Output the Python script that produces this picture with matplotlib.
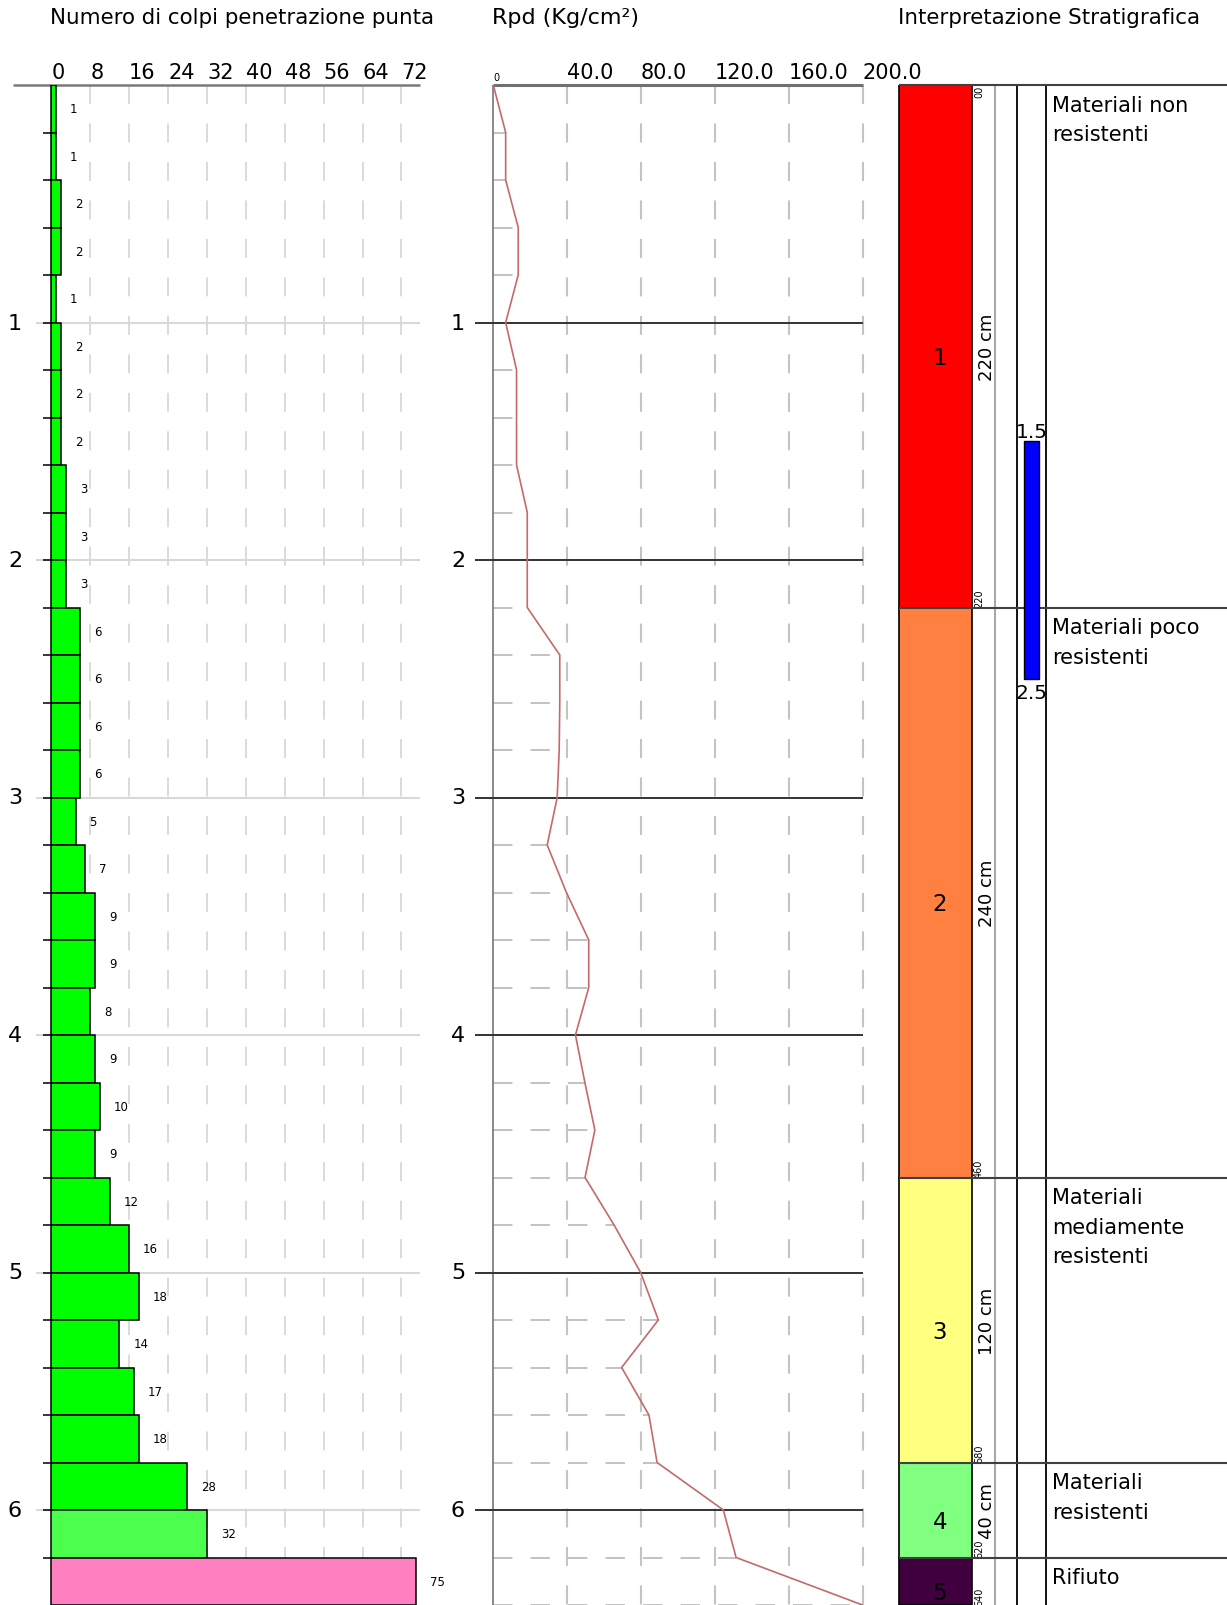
"""
Prova penetrometrica dinamica: colpi, Rpd e interpretazione stratigrafica
"""

import numpy as np
import matplotlib.pyplot as plt
from matplotlib.patches import Rectangle

plt.rcParams['font.family'] = ['DejaVu Sans']
plt.rcParams['lines.scale_dashes'] = False

W, H = 1227, 1606
TOP = 86          # pixel row of depth 0
MAX_DEPTH = 6.4

# ---- data -------------------------------------------------------------
# blow counts, one per 20 cm interval (top of interval in m)
depth_top = [0.0, 0.2, 0.4, 0.6, 0.8, 1.0, 1.2, 1.4, 1.6, 1.8, 2.0,
             2.2, 2.4, 2.6, 2.8, 3.0, 3.2, 3.4, 3.6, 3.8, 4.0, 4.2,
             4.4, 4.6, 4.8, 5.0, 5.2, 5.4, 5.6, 5.8, 6.0, 6.2]
blows = [1, 1, 2, 2, 1, 2, 2, 2, 3, 3, 3, 6, 6, 6, 6, 5, 7, 9, 9, 8, 9,
         10, 9, 12, 16, 18, 14, 17, 18, 28, 32, 75]
bar_colors = ['#00ff00'] * 30 + ['#4dff4d', '#ff80c0']
step = 0.2

# dynamic point resistance Rpd (Kg/cm2) at the bottom of each interval
rpd_depth = [0.0, 0.2, 0.4, 0.6, 0.8, 1.0, 1.2, 1.4, 1.6, 1.8, 2.0,
             2.2, 2.4, 2.6, 2.8, 3.0, 3.2, 3.4, 3.6, 3.8, 4.0, 4.2,
             4.4, 4.6, 4.8, 5.0, 5.2, 5.4, 5.6, 5.8, 6.0, 6.2, 6.4]
rpd = [0.0, 6.7, 6.7, 13.5, 13.5, 6.7, 12.6, 12.6, 12.6, 18.4, 18.4,
       18.4, 36.0, 36.0, 35.7, 34.6, 29.2, 39.6, 51.7, 51.7, 44.5, 49.6,
       55.0, 49.7, 65.4, 79.8, 89.4, 69.5, 84.3, 88.7, 124.6, 131.5, 200.0]

# stratigraphic layers
layer_top = [0.0, 2.2, 4.6, 5.8, 6.2]
layer_bottom = [2.2, 4.6, 5.8, 6.2, 6.4]
layer_colors = ['#ff0000', '#ff8040', '#ffff80', '#80ff80', '#400040']
layer_names = ['Materiali non\nresistenti',
               'Materiali poco\nresistenti',
               'Materiali\nmediamente\nresistenti',
               'Materiali\nresistenti',
               'Rifiuto']
show_thickness = [True, True, True, True, False]

# water level band (m)
water_top, water_bottom = 1.5, 2.5

blow_ticks = [0, 8, 16, 24, 32, 40, 48, 56, 64, 72]
rpd_ticks = [0, 40, 80, 120, 160, 200]
rpd_tick_labels = ['0', '40.0', '80.0', '120.0', '160.0', '200.0']
depth_labels = [1, 2, 3, 4, 5, 6]

# ---- figure -----------------------------------------------------------
fig = plt.figure(figsize=(W / 100, H / 100), dpi=100)


def add_panel(x0, x1):
    ax = fig.add_axes([x0 / W, 0, (x1 - x0) / W, (H - TOP) / H])
    ax.patch.set_visible(False)
    return ax


def clean(ax):
    for s in ax.spines.values():
        s.set_visible(False)
    ax.set_yticks([])
    ax.set_ylim(MAX_DEPTH, 0)


def top_labels(ax, ticks, labels):
    ax.xaxis.tick_top()
    ax.set_xticks(ticks)
    ax.set_xticklabels(labels)
    ax.tick_params(axis='x', length=0, pad=2.5, labelsize=15)
    for lab in ax.get_xticklabels():
        lab.set_horizontalalignment('left')


# Panel 1: blow counts
ax1 = add_panel(0, 440)
B0, BPX = 51.3, 38.9 / 8           # pixel of 0 blows, pixels per blow
u1 = lambda px: (px - B0) / BPX
ax1.set_xlim(u1(0), u1(440))
clean(ax1)

ax1.vlines(blow_ticks[1:], 0, MAX_DEPTH, colors='#d8d8d8', lw=1.3,
           linestyles=(0, (13.7, 14)))
ax1.hlines(depth_labels, u1(36), u1(420), colors='#d8d8d8', lw=1.5)
ax1.hlines(0, u1(13), u1(420), colors='#7a7a7a', lw=1.8, clip_on=False)
ax1.barh(depth_top, blows, height=step, left=0, align='edge',
         color=bar_colors, edgecolor='black', linewidth=1.1, zorder=3)
ax1.hlines(depth_top[1:], u1(43), 0, colors='black', lw=1.1, zorder=4)
for d, n in zip(depth_top, blows):
    ax1.annotate(str(n), xy=(n, d + step / 2), xytext=(10, 0),
                 textcoords='offset points', ha='left', va='center',
                 fontsize=8.5, annotation_clip=False)
for d in depth_labels:
    ax1.text(u1(15), d, str(d), ha='center', va='center', fontsize=16)
top_labels(ax1, blow_ticks, [str(t) for t in blow_ticks])

# Panel 2: Rpd
ax2 = add_panel(440, 880)
R0, RPX = 493.3, 73.85 / 40
u2 = lambda px: (px - R0) / RPX
ax2.set_xlim(u2(440), u2(880))
clean(ax2)

ax2.vlines(rpd_ticks[1:], 0, MAX_DEPTH, colors='#c4c4c4', lw=1.5,
           linestyles=(0, (13.7, 14)))
ax2.hlines(rpd_depth[1:], 0, rpd[1:], colors='#bdbdbd', lw=1.3,
           linestyles=(0, (14, 13)))
ax2.vlines(0, 0, MAX_DEPTH, colors='#808080', lw=1.3)
ax2.hlines(depth_labels, u2(475), 200, colors='#333333', lw=1.4)
ax2.hlines(0, 0, 200, colors='#707070', lw=2.2, clip_on=False)
ax2.plot(rpd, rpd_depth, color='#c46a6a', lw=1.2, zorder=4)
for d in depth_labels:
    ax2.text(u2(458), d, str(d), ha='center', va='center', fontsize=16)
top_labels(ax2, rpd_ticks, rpd_tick_labels)
ax2.get_xticklabels()[0].set_fontsize(7)

# Panel 3: stratigraphy (x in pixels)
ax3 = add_panel(880, W)
ax3.set_xlim(880, W)
clean(ax3)
ax3.set_xticks([])

for i, (t, b) in enumerate(zip(layer_top, layer_bottom)):
    ax3.add_patch(Rectangle((899, t), 73, b - t, facecolor=layer_colors[i],
                            edgecolor='black', lw=1.2, zorder=2))
    mid = (t + b) / 2
    ax3.text(940, mid, str(i + 1), ha='center', va='top', fontsize=16.5,
             zorder=5)
    if show_thickness[i]:
        ax3.text(987, mid, f'{round((b - t) * 100)} cm', rotation=90,
                 ha='center', va='center', fontsize=13)
    ax3.text(974, b, f'{round(b * 100)}', rotation=90, ha='left',
             va='bottom', fontsize=7)
    ax3.annotate(layer_names[i], xy=(1052, t), xytext=(0, -7),
                 textcoords='offset points', ha='left', va='top',
                 fontsize=15, linespacing=1.58)
ax3.text(974, 0, '00', rotation=90, ha='left', va='top', fontsize=7)

ax3.hlines(layer_top, 899, W, colors='#404040', lw=1.5, clip_on=False,
           zorder=3)
ax3.vlines(995, 0, MAX_DEPTH, colors='#a8a8a8', lw=1.5)
ax3.vlines([1017, 1046], 0, MAX_DEPTH, colors='black', lw=1.3)

ax3.add_patch(Rectangle((1024, water_top), 15, water_bottom - water_top,
                        facecolor='#0000ff', edgecolor='black', lw=1.0,
                        zorder=4))
ax3.text(1031.5, water_top, f'{water_top}', ha='center', va='bottom',
         fontsize=14.5)
ax3.annotate(f'{water_bottom}', xy=(1031.5, water_bottom), xytext=(0, -3),
             textcoords='offset points', ha='center', va='top',
             fontsize=14.5)

# panel titles
for x, title, size in [(50, 'Numero di colpi penetrazione punta', 15.4),
                       (492, 'Rpd (Kg/cm²)', 16),
                       (898, 'Interpretazione Stratigrafica', 15.4)]:
    fig.text(x / W, 1 - 18.5 / H, title, ha='left', va='center',
             fontsize=size)

fig.savefig('out.png', dpi=100)
